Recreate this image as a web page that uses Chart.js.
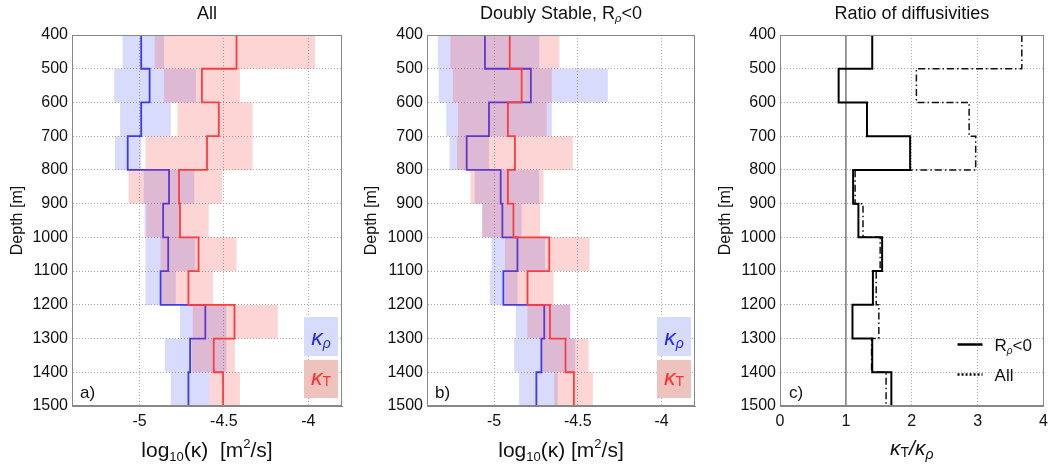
<!DOCTYPE html>
<html><head><meta charset="utf-8">
<script src="https://cdn.jsdelivr.net/npm/chart.js@4"></script>
<style>
html,body{margin:0;padding:0;background:#fff;}
#wrap{position:relative;width:1054px;height:466px;overflow:hidden;}
canvas{position:absolute;top:0;}
</style></head><body>
<div id="wrap">
<canvas id="ca" width="350" height="466" style="left:0"></canvas>
<canvas id="cb" width="350" height="466" style="left:350px"></canvas>
<canvas id="cc" width="354" height="466" style="left:700px"></canvas>
</div>
<script>
// ---------- data ----------
const depthEdges = [400,500,600,700,800,900,1000,1100,1200,1300,1400,1500];
const depthTicks = [400,500,600,700,800,900,1000,1100,1200,1300,1400,1500];
const kappaTicks = [-5,-4.5,-4];
const ratioTicks = [0,1,2,3,4];

// panel a: All
const allRho   = [-4.99,-4.94,-4.99,-5.07,-4.825,-4.86,-4.83,-4.875,-4.61,-4.70,-4.71];
const allRhoLo = [-5.10,-5.15,-5.115,-5.145,-4.975,-4.97,-4.965,-4.965,-4.76,-4.85,-4.815];
const allRhoHi = [-4.855,-4.665,-4.815,-4.99,-4.675,-4.76,-4.67,-4.785,-4.485,-4.485,-4.585];
const allT     = [-4.425,-4.63,-4.53,-4.60,-4.766,-4.76,-4.65,-4.71,-4.437,-4.56,-4.505];
const allTLo   = [-4.91,-4.855,-4.775,-4.965,-5.065,-4.96,-4.875,-4.87,-4.685,-4.69,-4.585];
const allTHi   = [-3.96,-4.405,-4.33,-4.33,-4.51,-4.59,-4.425,-4.565,-4.18,-4.435,-4.405];

// panel b: Doubly stable
const dsRho   = [-5.054,-4.78,-5.03,-5.163,-4.96,-4.95,-4.86,-4.944,-4.70,-4.717,-4.747];
const dsRhoLo = [-5.335,-5.33,-5.285,-5.265,-5.115,-5.07,-5.015,-5.025,-4.87,-4.88,-4.85];
const dsRhoHi = [-4.73,-4.32,-4.655,-5.03,-4.73,-4.835,-4.695,-4.86,-4.545,-4.515,-4.62];
const dsT     = [-4.906,-4.835,-4.917,-4.875,-4.917,-4.884,-4.67,-4.80,-4.666,-4.573,-4.523];
const dsTLo   = [-5.26,-5.245,-5.215,-5.22,-5.14,-5.07,-4.935,-4.935,-4.80,-4.715,-4.64];
const dsTHi   = [-4.61,-4.655,-4.685,-4.53,-4.705,-4.725,-4.43,-4.645,-4.545,-4.435,-4.41];

// panel c: ratio of diffusivities
const ratioDS  = [1.40,0.89,1.32,1.975,1.11,1.19,1.55,1.41,1.10,1.40,1.69];
const ratioAll = [3.67,2.07,2.87,2.97,1.14,1.26,1.52,1.46,1.50,1.39,1.61];
const refRatio = 1;

// ---------- helpers ----------
const FONT = '"Liberation Sans", Arial, Helvetica, sans-serif';
const BLUE = '#3b3bf4', RED = '#ff3c3c';
const BLUE_BAND = 'rgba(60,75,240,0.2)', RED_BAND = 'rgba(245,45,45,0.2)';

function steps(vals){
  const pts = [];
  vals.forEach((v,i)=>{ pts.push({x:v,y:depthEdges[i]}); pts.push({x:v,y:depthEdges[i+1]}); });
  return pts;
}
function bands(lo,hi){
  return lo.map((l,i)=>({y:(depthEdges[i]+depthEdges[i+1])/2, x:[l,hi[i]]}));
}
// parts: {t, s, dy, c, i}
function rich(ctx, parts, x, y, align){
  let w = 0;
  parts.forEach(p=>{ ctx.font = (p.i?'italic ':'') + p.s + 'px ' + FONT; p.w = ctx.measureText(p.t).width; w += p.w; });
  let cx = align==='center' ? x - w/2 : (align==='right' ? x - w : x);
  ctx.textAlign = 'left'; ctx.textBaseline = 'alphabetic';
  parts.forEach(p=>{ ctx.font = (p.i?'italic ':'') + p.s + 'px ' + FONT; ctx.fillStyle = p.c || '#111'; ctx.fillText(p.t, cx, y + (p.dy||0)); cx += p.w; });
}
function gridOpts(){ return {color:'#aaaaaa', lineWidth:1, drawTicks:false, offset:false}; }
function borderOpts(){ return {display:true, color:'#888', dash:[1,2]}; }
const tickFont = {family: FONT, size: 16};

function xScale(min, max, ticks){
  return {type:'linear', min, max, beginAtZero:false, offset:false,
    afterBuildTicks: s=>{ s.ticks = ticks.map(v=>({value:v})); },
    afterFit: s=>{ s.height = 60; },
    grid: gridOpts(), border: borderOpts(),
    ticks:{padding:6, font:tickFont, color:'#111', callback: v=>String(v)}};
}
function yScale(width, titlePad){
  return {type:'linear', reverse:true, min:400, max:1500, offset:false, beginAtZero:false,
    afterBuildTicks: s=>{ s.ticks = depthTicks.map(v=>({value:v})); },
    afterFit: s=>{ s.width = width; },
    title:{display:true, text:'Depth [m]', font:{family:FONT, size:16}, color:'#111', padding:{top:titlePad, bottom:0}},
    grid: gridOpts(), border: borderOpts(),
    ticks:{padding:4, font:tickFont, color:'#111', callback: v=>String(v)}};
}
function frame(ctx, a){
  ctx.save(); ctx.strokeStyle = '#888'; ctx.lineWidth = 1;
  ctx.strokeRect(Math.round(a.left)+0.5, Math.round(a.top)+0.5, Math.round(a.right)-Math.round(a.left)-1, Math.round(a.bottom)-Math.round(a.top)-1);
  ctx.restore();
}
function kappaDecor(title, xTitle, letter){
  return {id:'decor', afterDraw(chart){
    const ctx = chart.ctx, a = chart.chartArea;
    frame(ctx, a);
    const cx = (a.left + a.right)/2;
    rich(ctx, title, cx, 19, 'center');
    rich(ctx, xTitle, cx, 457, 'center');
    rich(ctx, [{t:letter, s:17}], a.left + 8, 398, 'left');
    // legend boxes
    const bx = a.right - 38, bw = 34;
    ctx.fillStyle = '#d7dbfc'; ctx.fillRect(bx, 317, bw, 39);
    ctx.fillStyle = '#efc3bd'; ctx.fillRect(bx, 360, bw, 38);
    rich(ctx, [{t:'κ', s:23, c:'#2a2af0', i:true},{t:'ρ', s:14, dy:3, c:'#2a2af0', i:true}], bx + bw/2, 345, 'center');
    rich(ctx, [{t:'κ', s:23, c:'#ff3030', i:true},{t:'T', s:14, dy:1, c:'#ff3030'}], bx + bw/2, 385, 'center');
  }};
}
function kappaChart(id, yW, yPad, padR, rho, rhoLo, rhoHi, t, tLo, tHi, decor){
  const barCommon = {type:'bar', indexAxis:'y', grouped:false, barPercentage:1, categoryPercentage:1, borderWidth:0, inflateAmount:0, borderSkipped:false};
  const lineCommon = {type:'line', pointRadius:0, tension:0, fill:false, borderWidth:1.8};
  return new Chart(document.getElementById(id), {
    type:'line',
    data:{datasets:[
      Object.assign({data:bands(rhoLo, rhoHi), backgroundColor:BLUE_BAND, order:3}, barCommon),
      Object.assign({data:steps(rho), borderColor:BLUE, order:2}, lineCommon),
      Object.assign({data:bands(tLo, tHi), backgroundColor:RED_BAND, order:1}, barCommon),
      Object.assign({data:steps(t), borderColor:RED, order:0}, lineCommon)
    ]},
    options:{responsive:false, animation:false, devicePixelRatio:1,
      layout:{padding:{top:35, right:padR, left:0, bottom:0}},
      plugins:{legend:{display:false}, tooltip:{enabled:false}, title:{display:false}},
      scales:{x:xScale(-5.4, -3.8, kappaTicks), y:yScale(yW, yPad)}},
    plugins:[decor]
  });
}

kappaChart('ca', 72, 8, 8, allRho, allRhoLo, allRhoHi, allT, allTLo, allTHi,
  kappaDecor([{t:'All', s:18}],
    [{t:'log', s:21},{t:'10', s:13, dy:4},{t:'(κ)  [m', s:21},{t:'2', s:13, dy:-9},{t:'/s]', s:21}], 'a)'));
kappaChart('cb', 77, 12, 5, dsRho, dsRhoLo, dsRhoHi, dsT, dsTLo, dsTHi,
  kappaDecor([{t:'Doubly Stable, R', s:18},{t:'ρ', s:11, dy:3, i:true},{t:'<0', s:18}],
    [{t:'log', s:21},{t:'10', s:13, dy:4},{t:'(κ) [m', s:21},{t:'2', s:13, dy:-9},{t:'/s]', s:21}], 'b)'));

// panel c
new Chart(document.getElementById('cc'), {
  type:'line',
  data:{datasets:[
    {type:'line', data:[{x:refRatio, y:depthEdges[0]},{x:refRatio, y:depthEdges[depthEdges.length-1]}], borderColor:'#8a8a8a', borderWidth:1, pointRadius:0, order:3},
    {type:'line', data:steps(ratioAll), borderColor:'#111', borderWidth:1.5, borderDash:[7,3,1.5,3], pointRadius:0, tension:0, order:1},
    {type:'line', data:steps(ratioDS), borderColor:'#000', borderWidth:2, pointRadius:0, tension:0, order:0}
  ]},
  options:{responsive:false, animation:false, devicePixelRatio:1,
    layout:{padding:{top:35, right:9, left:0, bottom:0}},
    plugins:{legend:{display:false}, tooltip:{enabled:false}, title:{display:false}},
    scales:{x:xScale(0, 4, ratioTicks), y:yScale(80, 16)}},
  plugins:[{id:'decorc', afterDraw(chart){
    const ctx = chart.ctx, a = chart.chartArea;
    frame(ctx, a);
    const cx = (a.left + a.right)/2;
    rich(ctx, [{t:'Ratio of diffusivities', s:18}], cx, 19, 'center');
    rich(ctx, [{t:'κ', s:21, i:true},{t:'T', s:14, dy:2},{t:'/κ', s:21, i:true},{t:'ρ', s:14, dy:4, i:true}], cx, 455, 'center');
    rich(ctx, [{t:'c)', s:17}], a.left + 9, 398, 'left');
    // legend
    const lx0 = a.right - 86, lx1 = a.right - 61;
    ctx.save(); ctx.strokeStyle = '#000'; ctx.lineWidth = 2.5;
    ctx.beginPath(); ctx.moveTo(lx0, 344.5); ctx.lineTo(lx1, 344.5); ctx.stroke();
    ctx.setLineDash([2,2]);
    ctx.beginPath(); ctx.moveTo(lx0, 374.5); ctx.lineTo(lx1, 374.5); ctx.stroke();
    ctx.restore();
    rich(ctx, [{t:'R', s:17},{t:'ρ', s:10, dy:3, i:true},{t:'<0', s:17}], a.right - 49, 351, 'left');
    rich(ctx, [{t:'All', s:17}], a.right - 49, 381, 'left');
  }}]
});
</script>
</body></html>
